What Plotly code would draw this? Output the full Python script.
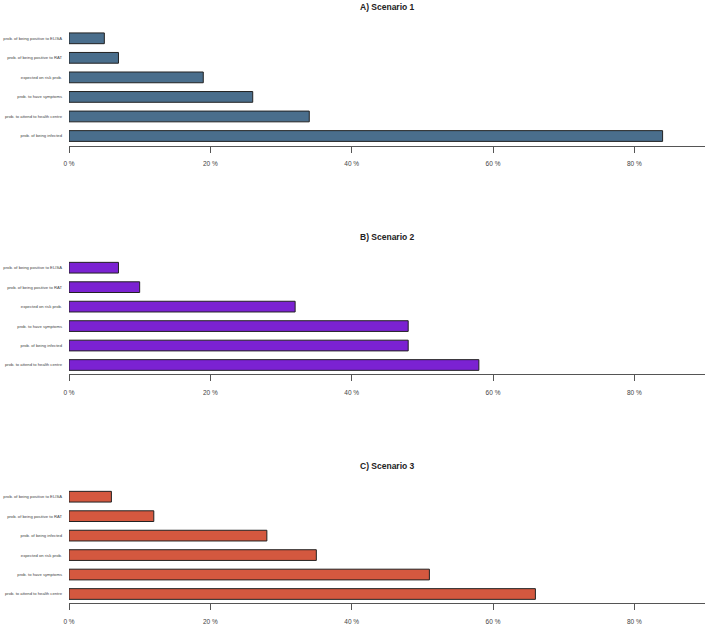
import plotly.graph_objects as go

# ---- data (listed top to bottom as displayed) ----
titles = ["A) Scenario 1", "B) Scenario 2", "C) Scenario 3"]

labels_1 = ["prob. of being positive to ELISA", "prob. of being positive to RAT",
            "expected on risk prob.", "prob. to have symptoms",
            "prob. to attend to health centre", "prob. of being infected"]
values_1 = [5, 7, 19, 26, 34, 84]

labels_2 = ["prob. of being positive to ELISA", "prob. of being positive to RAT",
            "expected on risk prob.", "prob. to have symptoms",
            "prob. of being infected", "prob. to attend to health centre"]
values_2 = [7, 10, 32, 48, 48, 58]

labels_3 = ["prob. of being positive to ELISA", "prob. of being positive to RAT",
            "prob. of being infected", "expected on risk prob.",
            "prob. to have symptoms", "prob. to attend to health centre"]
values_3 = [6, 12, 28, 35, 51, 66]

tick_vals = [0, 20, 40, 60, 80]
tick_text = ["0 %", "20 %", "40 %", "60 %", "80 %"]

colors = ["#4a6e8c", "#7b22d2", "#d4583f"]

# ---- layout geometry (pixels) ----
W, H = 708, 630
panels = [  # bottom bar centre, top bar centre, axis line, title y
    (136.0, 38.3, 145.5, 7.5),
    (365.0, 267.7, 374.0, 236.7),
    (594.0, 496.7, 603.3, 466.0),
]
TOP_EXTRA = 0.6
FONT = "Liberation Sans Narrow, Arial Narrow, sans-serif"

fig = go.Figure()
datasets = [(labels_1, values_1), (labels_2, values_2), (labels_3, values_3)]

for i, ((labs, vals), (c0, c5, a, ty)) in enumerate(zip(datasets, panels)):
    n = i + 1
    xa = "x" if n == 1 else f"x{n}"
    ya = "y" if n == 1 else f"y{n}"
    labs_b = list(reversed(labs))
    vals_b = list(reversed(vals))
    fig.add_trace(go.Bar(
        x=vals_b, y=labs_b, orientation="h",
        marker=dict(color=colors[i], line=dict(color="#222222", width=1)),
        width=0.55, xaxis=xa, yaxis=ya, showlegend=False,
        hoverinfo="x+y",
    ))
    s = (c0 - c5) / 5.0
    rb = -(a - c0) / s
    rt = 5 + TOP_EXTRA
    top_px = c5 - TOP_EXTRA * s
    dom = [1 - a / H, 1 - top_px / H]
    xkey = "xaxis" if n == 1 else f"xaxis{n}"
    ykey = "yaxis" if n == 1 else f"yaxis{n}"
    fig.update_layout(**{
        xkey: dict(
            domain=[0, 1], anchor=ya, range=[0, 90],
            tickvals=tick_vals, ticktext=tick_text,
            ticks="outside", ticklen=6, tickcolor="#555555", tickwidth=1,
            showline=True, linecolor="#555555", linewidth=1.3,
            showgrid=False, zeroline=False,
            tickfont=dict(family=FONT, size=6.5, color="#444444"),
            ticklabelstandoff=6,
        ),
        ykey: dict(
            domain=dom, anchor=xa, range=[rb, rt],
            type="category", categoryorder="array", categoryarray=labs_b,
            showline=False, showgrid=False, zeroline=False, ticks="",
            tickfont=dict(family=FONT, size=4.2, color="#444444"),
            ticklabelstandoff=6,
        ),
    })
    fig.add_annotation(
        text=f"<b>{titles[i]}</b>", xref="paper", yref="paper",
        x=0.5, y=1 - ty / H, xanchor="center", yanchor="middle",
        showarrow=False,
        font=dict(family=FONT, size=8.5, color="#222222"),
    )

fig.update_layout(
    width=W, height=H,
    margin=dict(l=69, r=3, t=0, b=0, autoexpand=False),
    plot_bgcolor="white", paper_bgcolor="white",
    bargap=0.3,
)

fig.write_html("out.html", config={"displayModeBar": False},
               post_script="document.body.style.margin='0';")
